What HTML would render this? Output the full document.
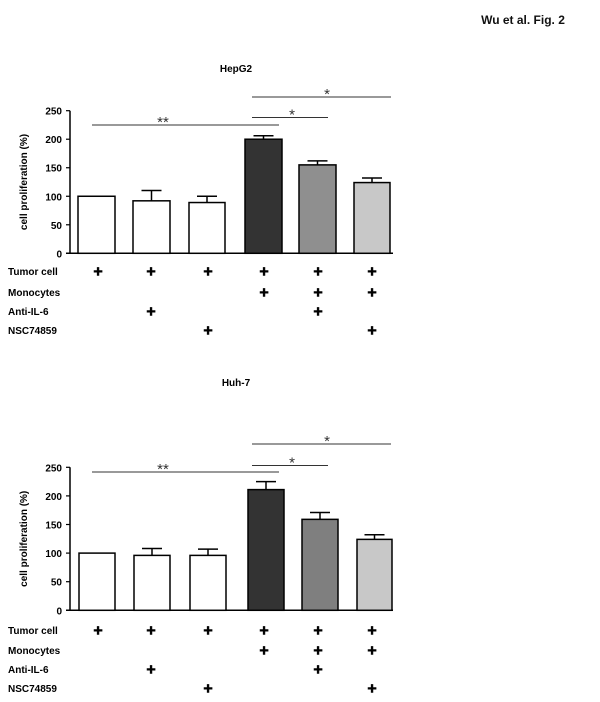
<!DOCTYPE html>
<html><head><meta charset="utf-8"><style>
html,body{margin:0;padding:0;background:#fff;width:600px;height:702px;overflow:hidden}
svg{display:block;font-family:"Liberation Sans",Arial,sans-serif}
</style></head><body>
<svg id="s" width="600" height="702" viewBox="0 0 600 702" xmlns="http://www.w3.org/2000/svg">
<text x="523" y="24" font-size="12" font-weight="bold" text-anchor="middle" fill="#111">Wu et al. Fig. 2</text>
</svg>
<script>
var s=document.getElementById('s'),h='';
function chart(o){
 var y0=o.y0,k=o.k;
 h+='<text x="236" y="'+o.ty+'" font-size="10" font-weight="bold" text-anchor="middle">'+o.title+'</text>';
 h+='<line x1="70" y1="'+(y0-250*k)+'" x2="70" y2="'+y0+'" stroke="#000" stroke-width="1.5"/>';
 h+='<line x1="66" y1="'+y0+'" x2="393" y2="'+y0+'" stroke="#000" stroke-width="1.5"/>';
 for(var t=0;t<=250;t+=50){var y=y0-t*k;h+='<line x1="66" y1="'+y+'" x2="70" y2="'+y+'" stroke="#000" stroke-width="1.2"/><text x="62" y="'+(y+4)+'" font-size="10" font-weight="bold" text-anchor="end">'+t+'</text>';}
 h+='<text transform="translate(27,'+(y0-125*k)+') rotate(-90)" font-size="10" font-weight="bold" text-anchor="middle">cell proliferation (%)</text>';
 o.bars.forEach(function(b){var yt=y0-b.v*k;
  if(b.e>b.v){var ye=y0-b.e*k,cx=b.x+(b.w)/2;h+='<line x1="'+cx+'" y1="'+ye+'" x2="'+cx+'" y2="'+yt+'" stroke="#000" stroke-width="1.5"/><line x1="'+(cx-10)+'" y1="'+ye+'" x2="'+(cx+10)+'" y2="'+ye+'" stroke="#000" stroke-width="1.5"/>';}
  h+='<rect x="'+b.x+'" y="'+yt+'" width="'+b.w+'" height="'+(y0-yt)+'" fill="'+b.c+'" stroke="#000" stroke-width="1.5"/>';});
 var L=o.sig;
 h+='<line x1="92" y1="'+L[0]+'" x2="279" y2="'+L[0]+'" stroke="#333"/><text x="163" y="'+(L[0]+2)+'" font-size="15" fill="#333" text-anchor="middle">**</text>';
 h+='<line x1="252" y1="'+L[1]+'" x2="328" y2="'+L[1]+'" stroke="#333"/><text x="292" y="'+(L[1]+2)+'" font-size="15" fill="#333" text-anchor="middle">*</text>';
 h+='<line x1="252" y1="'+L[2]+'" x2="391" y2="'+L[2]+'" stroke="#333"/><text x="327" y="'+(L[2]+2)+'" font-size="15" fill="#333" text-anchor="middle">*</text>';
 var names=['Tumor cell','Monocytes','Anti-IL-6','NSC74859'],xs=[98,151,208,264,318,372];
 var m=[[1,1,1,1,1,1],[0,0,0,1,1,1],[0,1,0,0,1,0],[0,0,1,0,0,1]];
 names.forEach(function(n,i){var y=o.rows[i];h+='<text x="8" y="'+(y+4)+'" font-size="10" font-weight="bold">'+n+'</text>';
  m[i].forEach(function(p,j){if(p)h+='<text x="'+xs[j]+'" y="'+(y+5.5)+'" font-size="16" font-weight="bold" text-anchor="middle" stroke="#000" stroke-width="0.6">+</text>';});});
}
chart({title:'HepG2',ty:72,y0:253.3,k:0.5704,sig:[125,117.5,97],rows:[271,292,311,330],
 bars:[{x:78,w:37,v:100,e:100,c:'#fff'},{x:133,w:37,v:92,e:110,c:'#fff'},{x:189,w:36,v:89,e:100,c:'#fff'},{x:245,w:37,v:200,e:206,c:'#333'},{x:299,w:37,v:155,e:162,c:'#8f8f8f'},{x:354,w:36,v:124,e:132,c:'#c8c8c8'}]});
chart({title:'Huh-7',ty:386,y0:610.3,k:0.572,sig:[472,465.5,444],rows:[630,650,669,688],
 bars:[{x:79,w:36,v:100,e:100,c:'#fff'},{x:134,w:36,v:96,e:108,c:'#fff'},{x:190,w:36,v:96,e:107,c:'#fff'},{x:248,w:36,v:211,e:225,c:'#333'},{x:302,w:36,v:159,e:171,c:'#7f7f7f'},{x:357,w:35,v:124,e:132,c:'#c8c8c8'}]});
s.insertAdjacentHTML('beforeend',h);
</script>
</body></html>
